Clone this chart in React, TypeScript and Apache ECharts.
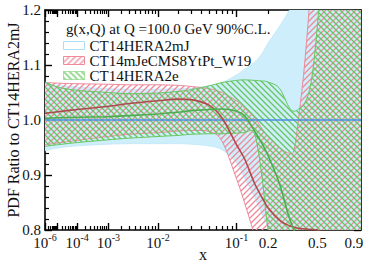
import React, { useEffect, useRef } from "react";
import * as echarts from "echarts";

// ---- data (x values and band limits) ----
const X = [1e-6, 1e-5, 1e-4, 1e-3, 3e-3, 1e-2, 2e-2, 3e-2, 5e-2, 0.07, 0.1, 0.12, 0.15, 0.175, 0.2, 0.25, 0.3, 0.33, 0.36, 0.4, 0.45, 0.5, 0.6, 0.8, 1.0];

const blueHi = [1.067, 1.063, 1.06, 1.057, 1.056, 1.056, 1.057, 1.058, 1.062, 1.068, 1.082, 1.092, 1.105, 1.12, 1.14, 1.17, 1.198, 1.22, 1.25, 1.3, 1.35, 1.4, 1.45, 1.5, 1.5];
const blueLo = [0.944, 0.949, 0.953, 0.956, 0.957, 0.957, 0.957, 0.956, 0.953, 0.946, 0.922, 0.895, 0.86, 0.83, 0.804, 0.76, 0.72, 0.7, 0.68, 0.65, 0.62, 0.6, 0.55, 0.5, 0.5];
const blueC = [1, 1, 1, 1, 1, 1, 1, 1, 1, 1, 1, 1, 1, 1, 1, 1, 1, 1, 1, 1, 1, 1, 1, 1, 1];

const pinkHi = [1.068, 1.067, 1.066, 1.065, 1.064, 1.064, 1.063, 1.061, 1.057, 1.05, 1.035, 1.022, 1.005, 0.985, 0.97, 0.95, 0.94, 0.945, 1.005, 1.1, 1.25, 1.4, 1.5, 1.5, 1.5];
const pinkLo = [0.955, 0.958, 0.963, 0.97, 0.974, 0.977, 0.98, 0.981, 0.979, 0.962, 0.893, 0.85, 0.79, 0.74, 0.7, 0.65, 0.6, 0.6, 0.6, 0.6, 0.6, 0.6, 0.6, 0.6, 0.6];
const redC = [1.012, 1.015, 1.019, 1.025, 1.03, 1.035, 1.038, 1.037, 1.027, 1.004, 0.955, 0.93, 0.885, 0.86, 0.84, 0.818, 0.808, 0.805, 0.803, 0.802, 0.801, 0.8, 0.79, 0.77, 0.75];

const greenHi = [1.069, 1.06, 1.054, 1.05, 1.048, 1.049, 1.052, 1.055, 1.062, 1.068, 1.072, 1.073, 1.072, 1.071, 1.069, 1.058, 1.024, 1.016, 1.02, 1.03, 1.07, 1.17, 1.4, 1.5, 1.5];
const greenLo = [0.952, 0.955, 0.959, 0.964, 0.967, 0.97, 0.972, 0.974, 0.975, 0.975, 0.976, 0.977, 0.975, 0.9, 0.8, 0.7, 0.6, 0.6, 0.6, 0.6, 0.6, 0.6, 0.6, 0.6, 0.6];
const greenC = [1.003, 1.004, 1.005, 1.006, 1.008, 1.011, 1.014, 1.017, 1.019, 1.02, 1.016, 1.008, 0.98, 0.958, 0.935, 0.885, 0.825, 0.8, 0.78, 0.76, 0.74, 0.72, 0.7, 0.68, 0.66];

const X_LABEL_VALUES = [1e-6, 1e-4, 1e-3, 1e-2, 1e-1, 0.2, 0.5, 0.9];
const X_LABEL_TEXTS = ["10^-6", "10^-4", "10^-3", "10^-2", "10^-1", "0.2", "0.5", "0.9"];
const X_MAJOR = [1e-6, 1e-5, 1e-4, 1e-3, 1e-2, 1e-1];
const Y_MIN = 0.8;
const Y_MAX = 1.2;

const NAMES = ["CT14HERA2mJ", "CT14mJeCMS8YtPt_W19", "CT14HERA2e"];
const TITLE = "g(x,Q) at Q =100.0 GeV 90%C.L.";

// ---- helpers ----
const P = 0.2;
const fx = (x: number) => Math.pow(x, P);
const X_MIN_T = fx(1e-6);
const X_MAX_T = fx(1);

const FONT = "'Liberation Serif', 'DejaVu Serif', serif";
const BLUE_FILL = "#cdeefa";
const BLUE_EDGE = "#bfe7f7";
const BLUE_LINE = "#4a8fe3";
const PINK = "#ee8a9c";
const RED = "#b04a4c";
const GREEN_H = "#66c75f";
const GREEN_LINE = "#4cad4f";

function hatch(color: string, dir: "/" | "\\", size = 6, lw = 1.3) {
  const c = document.createElement("canvas");
  c.width = size;
  c.height = size;
  const g = c.getContext("2d")!;
  g.strokeStyle = color;
  g.lineWidth = lw;
  g.beginPath();
  if (dir === "/") {
    g.moveTo(-1, size + 1); g.lineTo(size + 1, -1);
    g.moveTo(-1, 1); g.lineTo(1, -1);
    g.moveTo(size - 1, size + 1); g.lineTo(size + 1, size - 1);
  } else {
    g.moveTo(-1, -1); g.lineTo(size + 1, size + 1);
    g.moveTo(size - 1, -1); g.lineTo(size + 1, 1);
    g.moveTo(-1, size - 1); g.lineTo(1, size + 1);
  }
  g.stroke();
  return { image: c.toDataURL(), repeat: "repeat", imageWidth: size, imageHeight: size } as any;
}

function pts(ys: number[]) {
  return X.map((x, i) => [fx(x), ys[i]]);
}
function bandData(lo: number[], hi: number[]) {
  return X.map((x, i) => [fx(x), lo[i], hi[i]]);
}

// Catmull-Rom smoothing in pixel space (rendering only)
function smoothPath(p: number[][], steps = 6) {
  const out: number[][] = [];
  for (let i = 0; i < p.length - 1; i++) {
    const p0 = p[Math.max(0, i - 1)], p1 = p[i], p2 = p[i + 1], p3 = p[Math.min(p.length - 1, i + 2)];
    for (let s = 0; s < steps; s++) {
      const t = s / steps, t2 = t * t, t3 = t2 * t;
      const f = (a: number, b: number, c: number, d: number) =>
        0.5 * (2 * b + (-a + c) * t + (2 * a - 5 * b + 4 * c - d) * t2 + (-a + 3 * b - 3 * c + d) * t3);
      out.push([f(p0[0], p1[0], p2[0], p3[0]), f(p0[1], p1[1], p2[1], p3[1])]);
    }
  }
  out.push(p[p.length - 1]);
  return out;
}

export default function App() {
  const ref = useRef<HTMLDivElement>(null);
  useEffect(() => {
    if (!ref.current) return;
    const chart = echarts.init(ref.current, undefined, { renderer: "svg" });
    const pinkPat = hatch(PINK, "/");
    const greenPat = hatch(GREEN_H, "\\");

    const minorTicks: number[] = [];
    for (let k = -6; k <= -1; k++) {
      for (let m = 2; m <= 9; m++) minorTicks.push(fx(m * Math.pow(10, k)));
    }
    const majorTicks = X_MAJOR.map(fx);
    const labelVals = X_LABEL_VALUES.map(fx);

    const fmtX = (v: number) => {
      let best = 0;
      let bd = Infinity;
      labelVals.forEach((lv, i) => {
        const d = Math.abs(lv - v);
        if (d < bd) { bd = d; best = i; }
      });
      const t = X_LABEL_TEXTS[best];
      if (t.indexOf("^") >= 0) {
        const [b, e] = t.split("^");
        return `{b|${b}}{s|${e}}`;
      }
      return `{b|${t}}`;
    };

    const baseX = {
      type: "value",
      min: X_MIN_T,
      max: X_MAX_T,
      splitLine: { show: false },
    };
    const axisLine = { show: true, onZero: false, lineStyle: { color: "#000", width: 1.6 } };

    const xAxes = [
      {
        ...baseX,
        position: "bottom",
        axisLine,
        axisTick: { show: true, inside: true, length: 7, customValues: majorTicks, lineStyle: { color: "#000", width: 1.4 } },
        axisLabel: {
          show: true,
          customValues: labelVals,
          formatter: fmtX,
          margin: 2,
          color: "#111",
          rich: {
            b: { fontFamily: FONT, fontSize: 15, lineHeight: 18, verticalAlign: "bottom", color: "#111" },
            s: { fontFamily: FONT, fontSize: 10, lineHeight: 18, verticalAlign: "top", color: "#111" },
          },
        },
        name: "x",
        nameLocation: "middle",
        nameGap: 16,
        nameMoveOverlap: false,
        nameTextStyle: { fontFamily: FONT, fontSize: 16, color: "#111" },
      },
      {
        ...baseX,
        position: "bottom",
        axisLine: { show: false },
        axisTick: { show: true, inside: true, length: 4, customValues: minorTicks, lineStyle: { color: "#000", width: 1.2 } },
        axisLabel: { show: false },
      },
      {
        ...baseX,
        position: "top",
        axisLine,
        axisTick: { show: true, inside: true, length: 7, customValues: majorTicks, lineStyle: { color: "#000", width: 1.4 } },
        axisLabel: { show: false },
      },
      {
        ...baseX,
        position: "top",
        axisLine: { show: false },
        axisTick: { show: true, inside: true, length: 4, customValues: minorTicks, lineStyle: { color: "#000", width: 1.2 } },
        axisLabel: { show: false },
      },
    ];

    const baseY = {
      type: "value",
      min: Y_MIN,
      max: Y_MAX,
      interval: 0.1,
      splitLine: { show: false },
      axisLine,
      axisTick: { show: true, inside: true, length: 7, lineStyle: { color: "#000", width: 1.4 } },
      minorTick: { show: true, splitNumber: 5, length: 4, lineStyle: { color: "#000", width: 1.2 } },
    };
    const yAxes = [
      {
        ...baseY,
        position: "left",
        axisLabel: {
          show: true,
          formatter: (v: number) => v.toFixed(1),
          fontFamily: FONT,
          fontSize: 15,
          color: "#111",
          margin: 4,
        },
        name: "PDF Ratio to CT14HERA2mJ",
        nameLocation: "middle",
        nameGap: 24,
        nameMoveOverlap: false,
        nameTextStyle: { fontFamily: FONT, fontSize: 16, color: "#111" },
      },
      { ...baseY, position: "right", axisLabel: { show: false } },
    ];

    const bandSeries = (name: string, lo: number[], hi: number[], fill: any, stroke: string, lw: number) => ({
      type: "custom",
      name,
      xAxisIndex: 0,
      yAxisIndex: 0,
      clip: true,
      silent: true,
      encode: { x: 0, y: [1, 2] },
      data: bandData(lo, hi),
      renderItem: (params: any, api: any) => {
        if (params.dataIndexInside !== 0) return null;
        const n = params.dataInsideLength;
        const up: number[][] = [];
        const dn: number[][] = [];
        for (let i = 0; i < n; i++) {
          const xv = api.value(0, i);
          up.push(api.coord([xv, api.value(2, i)]));
          dn.push(api.coord([xv, api.value(1, i)]));
        }
        const su = smoothPath(up);
        const sd = smoothPath(dn);
        const poly = su.concat(sd.slice().reverse());
        return {
          type: "group",
          children: [
            { type: "polygon", shape: { points: poly }, style: { fill, stroke: "none" } },
            { type: "polyline", shape: { points: su }, style: { fill: "none", stroke, lineWidth: lw } },
            { type: "polyline", shape: { points: sd }, style: { fill: "none", stroke, lineWidth: lw } },
          ],
        };
      },
    });

    const lineSeries = (name: string, ys: number[], color: string) => ({
      type: "line",
      name,
      xAxisIndex: 0,
      yAxisIndex: 0,
      showSymbol: false,
      smooth: 0.3,
      silent: true,
      clip: true,
      data: pts(ys),
      lineStyle: { color, width: 1.6 },
    });

    const series: any[] = [
      bandSeries(NAMES[0], blueLo, blueHi, BLUE_FILL, BLUE_EDGE, 0.8),
      bandSeries(NAMES[1], pinkLo, pinkHi, pinkPat, PINK, 1),
      bandSeries(NAMES[2], greenLo, greenHi, greenPat, GREEN_H, 1),
      lineSeries("c-blue", blueC, BLUE_LINE),
      lineSeries("c-red", redC, RED),
      lineSeries("c-green", greenC, GREEN_LINE),
    ];

    chart.setOption({
      animation: false,
      backgroundColor: "#fff",
      grid: { left: 45, right: 13, top: 10, bottom: 32, containLabel: false, outerBoundsMode: "none" },
      title: {
        text: TITLE,
        left: 61,
        top: 16,
        textStyle: { fontFamily: FONT, fontSize: 15, fontWeight: "normal", color: "#111" },
      },
      legend: {
        orient: "vertical",
        left: 58,
        top: 33,
        icon: "rect",
        itemWidth: 21,
        itemHeight: 8,
        itemGap: 0,
        selectedMode: false,
        textStyle: { fontFamily: FONT, fontSize: 15, lineHeight: 14, color: "#111" },
        data: [
          { name: NAMES[0], itemStyle: { color: "#fff", borderColor: "#a9def4", borderWidth: 1 } },
          { name: NAMES[1], itemStyle: { color: pinkPat, borderColor: PINK, borderWidth: 1 } },
          { name: NAMES[2], itemStyle: { color: greenPat, borderColor: GREEN_H, borderWidth: 1, borderType: "dotted" } },
        ],
      },
      xAxis: xAxes,
      yAxis: yAxes,
      series,
    } as any);
    return () => chart.dispose();
  }, []);
  return <div ref={ref} style={{ width: 374, height: 262, position: "absolute", left: 0, top: 0 }} />;
}
